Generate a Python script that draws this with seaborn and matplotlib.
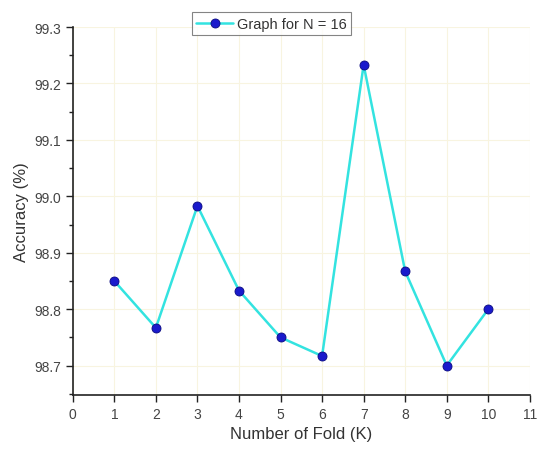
import matplotlib
matplotlib.use("Agg")
import matplotlib.pyplot as plt
import seaborn as sns
import pandas as pd
from matplotlib.ticker import MultipleLocator

folds = [1, 2, 3, 4, 5, 6, 7, 8, 9, 10]
accuracy = [98.85, 98.767, 98.983, 98.833, 98.75, 98.717, 99.233, 98.867, 98.70, 98.80]
series_label = "Graph for N = 16"
x_ticks = list(range(0, 12))
y_ticks = [98.7, 98.8, 98.9, 99.0, 99.1, 99.2, 99.3]

sns.set_style("white")
plt.rcParams['font.family'] = ['Liberation Sans', 'DejaVu Sans']

df = pd.DataFrame({"K": folds, "Accuracy": accuracy})

fig = plt.figure(figsize=(5.39, 4.52), dpi=100)
ax = fig.add_axes([0.135, 0.124, 0.848, 0.814])

sns.lineplot(data=df, x="K", y="Accuracy", ax=ax, color="#33e3e0", lw=1.8,
             marker="o", markersize=6.5, markerfacecolor="#1a1acc",
             markeredgecolor="#0a0a80", markeredgewidth=0.6, label=series_label)

ax.set_xlim(0, 11)
ax.set_ylim(98.648, 99.3)
ax.set_xticks(x_ticks)
ax.set_yticks(y_ticks)
ax.set_yticklabels([f"{v:.1f}" for v in y_ticks])
ax.yaxis.set_minor_locator(MultipleLocator(0.05))
ax.grid(True, which="major", color="#f8f4e0", lw=0.8)
ax.set_axisbelow(True)

for s in ["top", "right"]:
    ax.spines[s].set_visible(False)
for s in ["left", "bottom"]:
    ax.spines[s].set_color("#222222")
    ax.spines[s].set_linewidth(1.2)

ax.tick_params(axis="both", which="major", direction="out", length=5, width=1,
               color="#222222", labelsize=10, labelcolor="#444444", bottom=True, left=True)
ax.tick_params(axis="y", which="minor", direction="out", length=3, width=1, color="#222222", left=True)

ax.set_xlabel("Number of Fold (K)", fontsize=12, color="#333333")
ax.set_ylabel("Accuracy (%)", fontsize=12, color="#333333")

leg = ax.legend(loc="upper left", bbox_to_anchor=(0.245, 1.06), fontsize=10.5, frameon=True,
                fancybox=False, edgecolor="#666666", borderpad=0.3, handlelength=2.5,
                handletextpad=0.3)
leg.get_frame().set_linewidth(0.8)
for t in leg.get_texts():
    t.set_color("#333333")

fig.savefig("out.png", dpi=100)
